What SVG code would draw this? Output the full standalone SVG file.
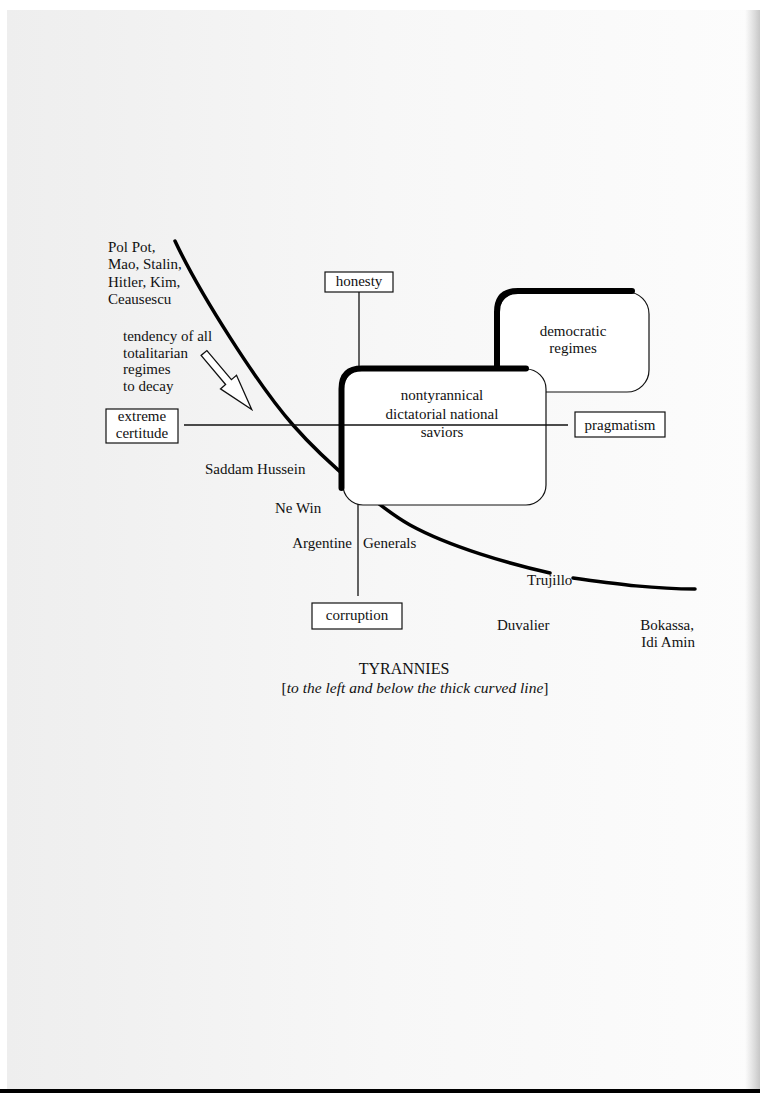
<svg xmlns="http://www.w3.org/2000/svg" width="760" height="1093" viewBox="0 0 760 1093">
  <defs>
    <linearGradient id="paper" x1="0" y1="0" x2="1" y2="0">
      <stop offset="0" stop-color="#eeeeee"/>
      <stop offset="0.5" stop-color="#f7f7f7"/>
      <stop offset="1" stop-color="#fcfcfc"/>
    </linearGradient>
    <linearGradient id="edge" x1="0" y1="0" x2="1" y2="0">
      <stop offset="0" stop-color="#888" stop-opacity="0"/>
      <stop offset="1" stop-color="#777" stop-opacity="0.4"/>
    </linearGradient>
    <style>
      text { font-family: "Liberation Serif", "Times New Roman", serif; font-size: 15px; fill: #111; }
      .c { text-anchor: middle; }
      .e { text-anchor: end; }
      .thin { fill: none; stroke: #111; stroke-width: 1.3; }
      .box { fill: #fff; stroke: #111; stroke-width: 1.2; }
      .thick { fill: none; stroke: #000; stroke-width: 6; stroke-linecap: round; stroke-linejoin: round; }
      .curve { fill: none; stroke: #000; stroke-width: 3.5; stroke-linecap: round; }
    </style>
  </defs>

  <rect x="0" y="0" width="760" height="1093" fill="#fff"/>
  <rect x="7" y="10" width="753" height="1083" fill="url(#paper)"/>
  <rect x="745" y="10" width="15" height="1083" fill="url(#edge)"/>
  <rect x="0" y="1089" width="760" height="4" fill="#000"/>

  <g id="connectors">
    <path class="curve" d="M175,241 C200,294 258,385 293,425 C328,465 385,511 410,525 C450,547 510,564 550,573"/>
    <path class="curve" d="M573,578 C610,583 650,589 695,589"/>
    <line class="thin" x1="359" y1="292" x2="359" y2="370"/>
    <line class="thin" x1="358" y1="504" x2="358" y2="596"/>
    <line class="thin" x1="184" y1="425" x2="568" y2="425"/>
  </g>

  <g id="democratic-regimes">
    <rect class="box" x="498" y="292" width="151" height="100" rx="22"/>
    <path class="thick" d="M497,368 L497,312 Q497,291 518,291 L632,291"/>
    <text class="c" x="573" y="336">democratic</text>
    <text class="c" x="573" y="353">regimes</text>
  </g>

  <g id="national-saviors">
    <rect class="box" x="343" y="369" width="203" height="136" rx="20"/>
    <line class="thin" x1="343" y1="425" x2="546" y2="425"/>
    <path class="thick" d="M341.5,488 L341.5,389 Q341.5,368.5 362,368.5 L526,368.5"/>
    <text class="c" x="442" y="400">nontyrannical</text>
    <text class="c" x="442" y="419">dictatorial national</text>
    <text class="c" x="442" y="437">saviors</text>
  </g>

  <g id="honesty">
    <rect class="box" x="325" y="272" width="68" height="20"/>
    <text class="c" x="359" y="286">honesty</text>
  </g>

  <g id="corruption">
    <rect class="box" x="312" y="603" width="90" height="26"/>
    <text class="c" x="357" y="620">corruption</text>
  </g>

  <g id="pragmatism">
    <rect class="box" x="575" y="412" width="90" height="25"/>
    <text class="c" x="620" y="430">pragmatism</text>
  </g>

  <g id="extreme-certitude">
    <rect class="box" x="106" y="409" width="72" height="34"/>
    <text class="c" x="142" y="421">extreme</text>
    <text class="c" x="142" y="438">certitude</text>
  </g>

  <g id="totalitarian-leaders">
    <text x="108" y="252">Pol Pot,</text>
    <text x="108" y="269">Mao, Stalin,</text>
    <text x="108" y="287">Hitler, Kim,</text>
    <text x="108" y="304">Ceausescu</text>
  </g>

  <g id="tendency">
    <text x="123" y="341">tendency of all</text>
    <text x="123" y="358">totalitarian</text>
    <text x="123" y="374">regimes</text>
    <text x="123" y="391">to decay</text>
    <polygon points="206.9,350.6 231.4,379.7 236.5,375.3 251.7,409.6 220.5,388.9 225.6,384.5 201.1,355.4" fill="#fff" stroke="#111" stroke-width="1.3" stroke-linejoin="miter"/>
  </g>

  <g id="tyrants">
    <text x="205" y="474">Saddam Hussein</text>
    <text x="275" y="513">Ne Win</text>
    <text class="e" x="352" y="548">Argentine</text>
    <text x="363" y="548">Generals</text>
    <text x="527" y="585">Trujillo</text>
    <text x="497" y="630">Duvalier</text>
    <text class="e" x="694" y="630">Bokassa,</text>
    <text class="e" x="695" y="647">Idi Amin</text>
  </g>

  <g id="caption">
    <text class="c" x="404" y="674" style="font-size:16px">TYRANNIES</text>
    <text class="c" x="415" y="693" style="font-size:15.5px"><tspan>[</tspan><tspan font-style="italic">to the left and below the thick curved line</tspan><tspan>]</tspan></text>
  </g>
</svg>
